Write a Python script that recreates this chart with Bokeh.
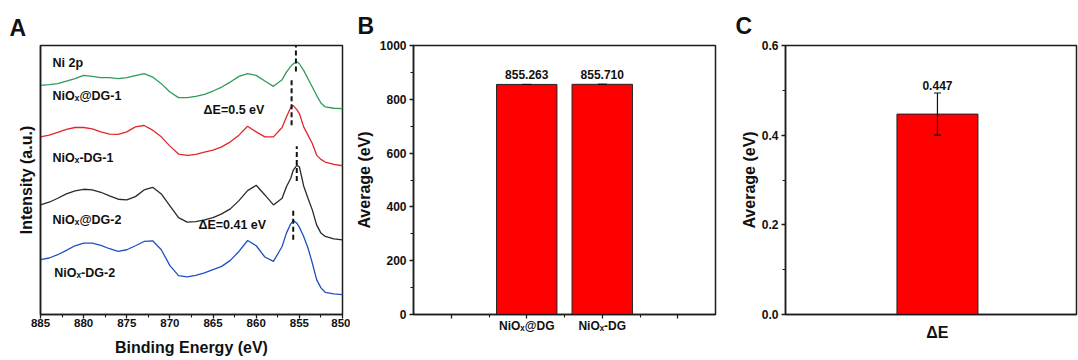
from bokeh.plotting import figure
from bokeh.layouts import row
from bokeh.models import (Range1d, FixedTicker, Whisker, ColumnDataSource, TeeHead,
                          PrintfTickFormatter)
from bokeh.core.properties import value
from bokeh.embed import file_html
from bokeh.resources import INLINE

FONT = "Liberation Sans"
AX = "#1c1c1c"

# ---------------- Panel A data (Ni 2p XPS, intensity in a.u.) ----------------
energy = [885, 884, 883, 882, 881, 880, 879, 878, 877, 876, 875, 874, 873, 872, 871,
          870, 869, 868, 867, 866, 865, 864, 863, 862, 861, 860, 859, 858, 857,
          856.5, 856, 855.7, 855.3, 855, 854.5, 854, 853.5, 853, 852.5, 852, 851, 850]
nio_at_dg_1 = [230, 230.7, 231.7, 234.3, 236.7, 240, 239, 237.7, 237.7, 236.7, 237.7, 239.7,
               241.7, 238.3, 231.7, 223.3, 217.7, 217.7, 219, 221, 224.3, 228.3, 233.3, 239,
               241.7, 240, 234.3, 229, 235.7, 243.3, 249, 251.7, 253.7, 251.7, 245, 236.7,
               228.3, 220, 212.3, 208.3, 207, 206.7]
nio_dg_1 = [178.3, 180, 182.7, 185.7, 187.7, 187.7, 186.3, 183.3, 181, 180.7, 183.3, 188.3,
            189.7, 185, 178.3, 169, 161, 159.7, 160.7, 163, 165, 168.3, 173.3, 180, 189,
            183.3, 178.3, 178.3, 187.7, 198.3, 207.7, 209.7, 205.7, 201.7, 188.3, 180, 171.7,
            160, 155.7, 153, 150.7, 149.3]
nio_at_dg_2 = [110, 112.7, 116.7, 121, 124, 125.7, 125, 122.7, 119, 115.7, 115, 118.3, 125,
               127.7, 121, 109, 97.3, 92.7, 93.3, 95, 97.3, 101, 106, 114.3, 124.3, 129.7, 120,
               110, 116.7, 128.3, 136.7, 145, 149.7, 148.3, 129, 116.7, 105, 90, 81.7, 78.3,
               76, 75]
nio_dg_2 = [55, 56.7, 60, 64.3, 69, 71.7, 71.7, 69.3, 66, 63.3, 65, 69, 73.3, 74, 65, 49, 39,
            37.7, 39.3, 41.7, 45, 48.3, 54.3, 63.3, 74.3, 69, 57.7, 53.3, 68.3, 81.7, 91, 94.3,
            91.7, 87.7, 78.3, 66.7, 51.7, 35, 26.7, 22.3, 20.7, 20]
series = [nio_at_dg_1, nio_dg_1, nio_at_dg_2, nio_dg_2]
series_names = ["NiOₓ@DG-1", "NiOₓ-DG-1", "NiOₓ@DG-2", "NiOₓ-DG-2"]
series_colors = ["#2e9c57", "#e2262b", "#2a2a2a", "#1f50c2"]
label_energy = [883.6, 883.6, 883.6, 883.4]
label_intensity = [219, 157, 95, 42]
peak_energy = [855.4, 855.9, 855.3, 855.71]
peak_top = [276, 236, 169, 105]
peak_bottom = [244, 190, 134, 75]
delta_texts = ["ΔE=0.5 eV", "ΔE=0.41 eV"]
delta_energy = [866.1, 866.7]
delta_intensity = [205, 90]
a_xticks = [885, 880, 875, 870, 865, 860, 855, 850]

# ---------------- Panel B data ----------------
b_categories = ["NiOₓ@DG", "NiOₓ-DG"]
b_values = [855.263, 855.710]
b_errors = [0.3, 0.3]

# ---------------- Panel C data ----------------
c_categories = ["ΔE"]
c_values = [0.447]
c_errors = [0.047]

TOP = 45
BOTTOM = 46


def style(p, letter, offset, standoff):
    p.outline_line_color = AX
    p.outline_line_width = 1.5
    p.grid.visible = False
    p.background_fill_color = "white"
    p.border_fill_color = "white"
    p.title.text = letter
    p.title.text_font = FONT
    p.title.text_font_style = "bold"
    p.title.text_font_size = "23px"
    p.title.text_color = "#111111"
    p.title.offset = offset
    p.title.standoff = standoff
    for ax in p.axis:
        ax.axis_line_color = AX
        ax.axis_line_width = 1.5
        ax.major_tick_line_color = AX
        ax.major_tick_line_width = 1.3
        ax.minor_tick_line_color = AX
        ax.minor_tick_line_width = 1.1
        ax.major_tick_in = 0
        ax.major_tick_out = 4
        ax.minor_tick_in = 0
        ax.minor_tick_out = 3
        ax.major_label_text_font = FONT
        ax.major_label_text_font_style = "bold"
        ax.major_label_text_color = "#111111"
        ax.axis_label_text_font = FONT
        ax.axis_label_text_font_style = "bold"
        ax.axis_label_text_color = "#111111"
        ax.axis_label_text_font_size = "16px"


# ================= Panel A =================
pA = figure(width=350, height=360, x_range=Range1d(885, 850), y_range=Range1d(0, 270),
            output_backend="svg", toolbar_location=None,
            min_border_left=40, min_border_right=8, min_border_top=TOP, min_border_bottom=BOTTOM)
style(pA, "A", -31, 10)
for vals, col in zip(series, series_colors):
    pA.line(energy, vals, line_color=col, line_width=1.3)
pA.segment(x0=peak_energy, y0=peak_bottom, x1=peak_energy, y1=peak_top,
           line_color="#111111", line_width=2, line_dash="5 3")
pA.text(x=label_energy, y=label_intensity, text=series_names, text_font=value(FONT),
        text_font_style="bold", text_font_size="12.5px", text_color="#111111",
        text_align="left", text_baseline="middle")
pA.text(x=[883.6], y=[252], text=["Ni 2p"], text_font=value(FONT),
        text_font_style="bold", text_font_size="12.5px", text_color="#111111",
        text_align="left", text_baseline="middle")
pA.text(x=delta_energy, y=delta_intensity, text=delta_texts, text_font=value(FONT),
        text_font_style="bold", text_font_size="12.5px", text_color="#111111",
        text_align="left", text_baseline="middle")
pA.xaxis.ticker = FixedTicker(ticks=a_xticks,
                              minor_ticks=[t - 2.5 for t in a_xticks[:-1]])
pA.xaxis.axis_label = "Binding Energy (eV)"
pA.xaxis.major_label_text_font_size = "11.5px"
pA.xaxis.major_label_standoff = 0
pA.xaxis.axis_label_standoff = 9
pA.yaxis.ticker = FixedTicker(ticks=[])
pA.yaxis.major_label_text_font_size = "0px"
pA.yaxis.axis_label = "Intensity (a.u.)"
pA.yaxis.axis_label_standoff = 6

# ================= Panel B =================
b_pos = [i + 2 for i in range(len(b_categories))]
pB = figure(width=380, height=360, x_range=Range1d(0.5, 4.5), y_range=Range1d(0, 1000),
            output_backend="svg", toolbar_location=None,
            min_border_left=63, min_border_right=15, min_border_top=TOP, min_border_bottom=BOTTOM)
style(pB, "B", -56, 13)
pB.vbar(x=b_pos, top=b_values, width=0.8, fill_color="#ff0000", line_color="#222222",
        line_width=1)
srcB = ColumnDataSource(dict(x=b_pos,
                             upper=[v + e for v, e in zip(b_values, b_errors)],
                             lower=[v - e for v, e in zip(b_values, b_errors)]))
wB = Whisker(base="x", upper="upper", lower="lower", source=srcB,
             line_color="#111111", line_width=1, level="overlay",
             upper_head=TeeHead(size=9, line_color="#111111", line_width=1),
             lower_head=TeeHead(size=9, line_color="#111111", line_width=1))
pB.add_layout(wB)
pB.text(x=b_pos, y=srcB.data["upper"], text=[f"{v:.3f}" for v in b_values],
        text_font=value(FONT), text_font_style="bold", text_font_size="12px",
        text_color="#111111", text_align="center", text_baseline="bottom", y_offset=-5)
pB.xaxis.ticker = FixedTicker(ticks=[1, 2, 3, 4], minor_ticks=[1.5, 2.5, 3.5])
pB.xaxis.major_label_overrides = {1: "", 4: "", **{p: c for p, c in zip(b_pos, b_categories)}}
pB.xaxis.major_label_text_font_size = "12px"
pB.xaxis.major_label_standoff = 0
pB.yaxis.ticker = FixedTicker(ticks=[0, 200, 400, 600, 800, 1000],
                              minor_ticks=[100, 300, 500, 700, 900])
pB.yaxis.major_label_text_font_size = "12px"
pB.yaxis.major_label_standoff = 3
pB.yaxis.axis_label = "Average (eV)"
pB.yaxis.axis_label_standoff = 4

# ================= Panel C =================
c_pos = [1]
pC = figure(width=348, height=360, x_range=Range1d(0, 1.915), y_range=Range1d(0, 0.6),
            output_backend="svg", toolbar_location=None,
            min_border_left=55, min_border_right=2, min_border_top=TOP, min_border_bottom=BOTTOM)
style(pC, "C", -50, 13)
pC.vbar(x=c_pos, top=c_values, width=0.533, fill_color="#ff0000", line_color="#222222",
        line_width=1)
srcC = ColumnDataSource(dict(x=c_pos,
                             upper=[v + e for v, e in zip(c_values, c_errors)],
                             lower=[v - e for v, e in zip(c_values, c_errors)]))
wC = Whisker(base="x", upper="upper", lower="lower", source=srcC,
             line_color="#111111", line_width=1.2, level="overlay",
             upper_head=TeeHead(size=7, line_color="#111111", line_width=1.2),
             lower_head=TeeHead(size=7, line_color="#111111", line_width=1.2))
pC.add_layout(wC)
pC.text(x=c_pos, y=srcC.data["upper"], text=[f"{v:.3f}" for v in c_values],
        text_font=value(FONT), text_font_style="bold", text_font_size="12px",
        text_color="#111111", text_align="center", text_baseline="bottom", y_offset=-3)
pC.xaxis.ticker = FixedTicker(ticks=c_pos)
pC.xaxis.major_label_overrides = {p: c for p, c in zip(c_pos, c_categories)}
pC.xaxis.major_label_text_font_size = "16px"
pC.xaxis.major_tick_line_color = None
pC.xaxis.minor_tick_line_color = None
pC.xaxis.major_label_standoff = 5
pC.yaxis.ticker = FixedTicker(ticks=[0, 0.2, 0.4, 0.6], minor_ticks=[0.1, 0.3, 0.5])
pC.yaxis.formatter = PrintfTickFormatter(format="%.1f")
pC.yaxis.major_label_text_font_size = "12px"
pC.yaxis.major_label_standoff = 3
pC.yaxis.axis_label = "Average (eV)"
pC.yaxis.axis_label_standoff = 1

layout = row(pA, pB, pC)
open("out.html", "w").write(file_html(layout, INLINE))
